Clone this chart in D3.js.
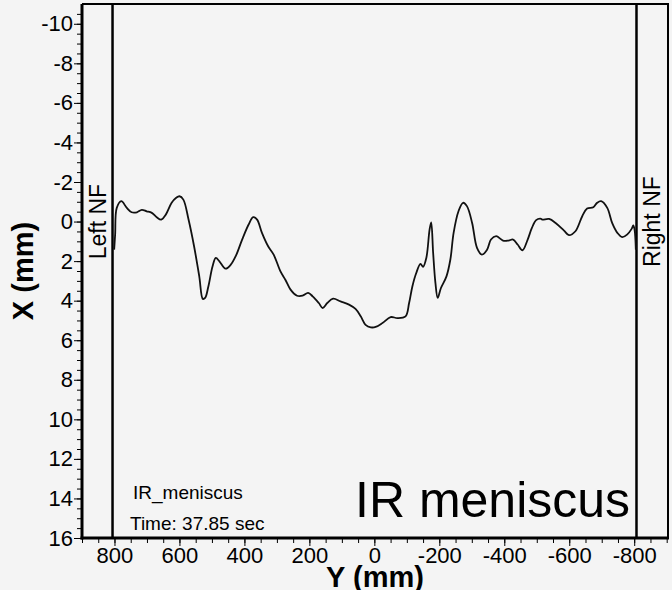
<!DOCTYPE html>
<html>
<head>
<meta charset="utf-8">
<script src="https://cdn.jsdelivr.net/npm/d3@7"></script>
<style>
  body { margin: 0; background: #f4f4f4; }
  svg { display: block; font-family: "Liberation Sans", Arial, sans-serif; }
</style>
</head>
<body>
<div class="chart"></div>
<script>
// Y position along the meniscus (mm), left to right on screen
const yPos = [801, 798, 793, 779, 762, 747, 731, 716, 701, 685, 670, 656, 642, 624, 610, 600, 588, 572,
  555, 539, 528, 521, 511, 498, 488, 477, 458, 442, 426, 407, 387, 373, 361, 346, 327, 310, 289, 274,
  258, 238, 221, 204, 190, 171, 159, 145, 127, 104, 78, 58, 42, 27, 11, -4, -25, -50, -71, -96, -107,
  -117, -129, -142, -150, -160, -170, -175, -181, -188, -195, -205, -222, -234, -244, -259, -273, -285,
  -301, -316, -331, -347, -359, -375, -396, -413, -427, -441, -456, -472, -485, -498, -511, -517, -538,
  -558, -584, -599, -619, -640, -655, -674, -686, -698, -717, -732, -748, -763, -778, -792, -797, -801, -805];
// X offset (mm)
const xVal = [1.42, 0.66, -0.69, -1.03, -0.69, -0.47, -0.47, -0.59, -0.52, -0.44, -0.22, -0.1, -0.35, -0.95,
  -1.2, -1.28, -1.11, -0.1, 1.25, 2.77, 3.91, 3.86, 3.28, 2.26, 1.84, 2.01, 2.38, 2.18, 1.72, 0.91, 0.15,
  -0.22, -0.1, 0.57, 1.25, 1.67, 2.52, 2.94, 3.44, 3.75, 3.75, 3.61, 3.78, 4.12, 4.37, 4.12, 3.9, 4.04,
  4.2, 4.42, 4.79, 5.22, 5.35, 5.33, 5.13, 4.83, 4.88, 4.79, 4.12, 3.28, 2.6, 2.14, 2.29, 1.84, 0.41,
  0.04, 1.59, 3.1, 3.86, 3.36, 2.77, 1.92, 0.57, -0.52, -0.95, -0.78, 0.07, 1.33, 1.67, 1.42, 0.91, 0.74,
  0.96, 0.96, 0.91, 1.16, 1.45, 0.91, 0.32, -0.07, -0.15, -0.1, -0.13, 0.07, 0.46, 0.69, 0.49, -0.27,
  -0.66, -0.72, -0.95, -1.03, -0.69, 0.07, 0.57, 0.79, 0.66, 0.37, 0.2, 0.41, 1.42, 2.18];

const yTicks = [800, 600, 400, 200, 0, -200, -400, -600, -800];
const xTicks = [-10, -8, -6, -4, -2, 0, 2, 4, 6, 8, 10, 12, 14, 16];
const nfLines = [{ pos: 806, label: "Left NF" }, { pos: -807, label: "Right NF" }];

const width = 672, height = 590;
const mLeft = 82, mRight = 668, mTop = 4, mBottom = 538;

const sx = d3.scaleLinear().domain([900, -904]).range([mLeft, mRight]);
const sy = d3.scaleLinear().domain([-11, 16]).range([mTop, mBottom]);

const svg = d3.select(".chart").append("svg")
  .attr("width", width)
  .attr("height", height);

svg.append("rect")
  .attr("width", width).attr("height", height)
  .attr("fill", "#f4f4f4");

// frame: thin top / right
svg.append("path")
  .attr("d", `M${mLeft},${mTop}H${mRight}V${mBottom}`)
  .attr("fill", "none").attr("stroke", "#000").attr("stroke-width", 2);

// left axis - X (mm)
const yAxis = d3.axisLeft(sy).tickValues(xTicks).tickSize(8).tickPadding(1)
  .tickFormat(d => String(d));
const yMinor = d3.axisLeft(sy).tickValues(d3.range(-10.5, 16, 0.5)).tickSize(5).tickFormat("");

svg.append("g").attr("transform", `translate(${mLeft},0)`).call(yMinor)
  .call(g => g.select(".domain").remove());
const gy = svg.append("g").attr("transform", `translate(${mLeft},0)`).call(yAxis);
gy.select(".domain").attr("stroke-width", 3).attr("d", `M0,${mTop}V${mBottom + 1.5}`);
gy.selectAll("text").attr("font-size", 22).attr("fill", "#000")
  .attr("font-family", "Liberation Sans, Arial, sans-serif");

// bottom axis - Y (mm)
const xAxis = d3.axisBottom(sx).tickValues(yTicks).tickSize(8).tickPadding(1)
  .tickFormat(d => String(d));
const xMinor = d3.axisBottom(sx).tickValues(d3.range(900, -901, -50)).tickSize(5).tickFormat("");

svg.append("g").attr("transform", `translate(0,${mBottom})`).call(xMinor)
  .call(g => g.select(".domain").remove());
const gx = svg.append("g").attr("transform", `translate(0,${mBottom})`).call(xAxis);
gx.select(".domain").attr("stroke-width", 3).attr("d", `M${mLeft - 1.5},0H${mRight + 1}`);
gx.selectAll("text").attr("font-size", 22).attr("fill", "#000")
  .attr("font-family", "Liberation Sans, Arial, sans-serif");

svg.selectAll(".tick line").attr("stroke", "#000");

// axis titles
svg.append("text")
  .attr("transform", `translate(33,${(mTop + mBottom) / 2}) rotate(-90)`)
  .attr("text-anchor", "middle")
  .attr("font-size", 29).attr("font-weight", "bold")
  .text("X (mm)");

svg.append("text")
  .attr("x", (mLeft + mRight) / 2).attr("y", 587)
  .attr("text-anchor", "middle")
  .attr("font-size", 29).attr("font-weight", "bold")
  .text("Y (mm)");

// NF boundary lines
svg.selectAll(".nf")
  .data(nfLines)
  .join("line")
  .attr("class", "nf")
  .attr("x1", d => sx(d.pos)).attr("x2", d => sx(d.pos))
  .attr("y1", mTop).attr("y2", mBottom)
  .attr("stroke", "#000").attr("stroke-width", 2.5);

svg.selectAll(".nflabel")
  .data(nfLines)
  .join("text")
  .attr("class", "nflabel")
  .attr("transform", (d, i) => `translate(${i === 0 ? 106 : 660},${sy(0)}) rotate(-90)`)
  .attr("text-anchor", "middle")
  .attr("font-size", 23)
  .text(d => d.label);

// meniscus profile
const line = d3.line()
  .x(d => sx(d[0]))
  .y(d => sy(d[1]))
  .curve(d3.curveCatmullRom.alpha(0.5));

svg.append("path")
  .datum(d3.zip(yPos, xVal))
  .attr("d", line)
  .attr("fill", "none")
  .attr("stroke", "#111")
  .attr("stroke-width", 1.8);

// annotations
svg.append("text").attr("x", 133).attr("y", 499).attr("font-size", 19).text("IR_meniscus");
svg.append("text").attr("x", 130).attr("y", 530).attr("font-size", 19).text("Time: 37.85 sec");
svg.append("text").attr("x", 355).attr("y", 517).attr("font-size", 50).text("IR meniscus");
</script>
</body>
</html>
